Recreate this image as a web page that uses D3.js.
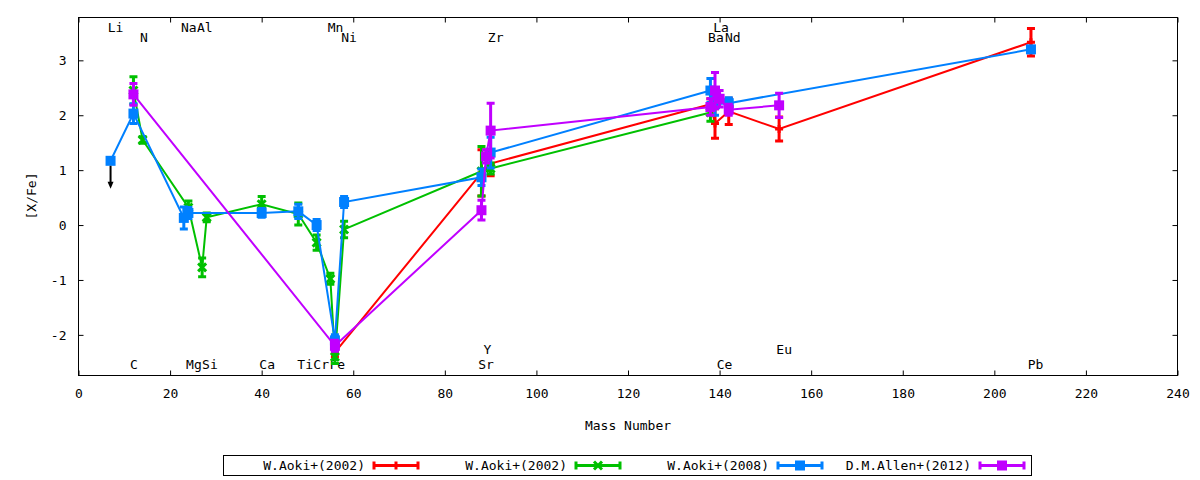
<!DOCTYPE html>
<html>
<head>
<meta charset="utf-8">
<script src="https://cdn.jsdelivr.net/npm/d3@7"></script>
<style>
body { margin: 0; background: #fff; }
text { font-family: "DejaVu Sans Mono", monospace; font-size: 13px; fill: #000; }
</style>
</head>
<body>
<svg id="chart" width="1200" height="480"></svg>
<script>
// series: name, colour, point type
const seriesNames = ['W.Aoki+(2002)', 'W.Aoki+(2002)', 'W.Aoki+(2008)', 'D.M.Allen+(2012)'];
const seriesColors = ['#ff0000', '#00c000', '#0080ff', '#c000ff'];
const seriesMarks = ['plus', 'cross', 'square', 'square'];

// [mass number, [X/Fe], error]
const aoki2002a = [[56, -2.32, 0.08], [88, 0.95, 0.42], [90, 1.12, 0.22], [138, 2.2, 0.1],
  [139, 1.85, 0.27], [142, 2.07, 0.24], [153, 1.75, 0.22], [208, 3.33, 0.25]];
const aoki2002b = [[12, 2.45, 0.25], [14, 1.55, 0.06], [24, 0.32, 0.12], [27, -0.77, 0.17],
  [28, 0.14, 0.08], [40, 0.38, 0.14], [48, 0.2, 0.2], [52, -0.32, 0.14], [55, -0.98, 0.1],
  [56, -2.4, 0.12], [58, -0.08, 0.15], [88, 0.98, 0.45], [90, 1.03, 0.1], [138, 2.05, 0.16]];
const aoki2008 = [[7, 1.17, 0], [12, 2.03, 0.18], [23, 0.13, 0.2], [24, 0.22, 0.1],
  [40, 0.22, 0.08], [48, 0.25, 0.13], [52, 0.0, 0.1], [56, -2.1, 0.1], [58, 0.42, 0.1],
  [88, 0.87, 0.15], [90, 1.32, 0.28], [138, 2.45, 0.22], [139, 2.2, 0.2], [142, 2.22, 0.1],
  [208, 3.2, 0.05]];
const allen2012 = [[12, 2.38, 0.2], [56, -2.2, 0.1], [88, 0.27, 0.18], [89, 1.25, 0.12],
  [90, 1.72, 0.5], [138, 2.15, 0.15], [139, 2.45, 0.33], [140, 2.3, 0.15], [142, 2.1, 0.1],
  [153, 2.18, 0.22]];
const allSeries = [aoki2002a, aoki2002b, aoki2008, allen2012];

// upper limit (Li, W.Aoki+2008): [mass, from, to]
const upperLimits = [[7, 1.17, 0.66]];

// element labels: text, position (mass), height ([X/Fe])
const elemNames = ['Li', 'N', 'Na', 'Al', 'Mn', 'Ni', 'Zr', 'La', 'Ba', 'Nd',
  'C', 'Mg', 'Si', 'Ca', 'Ti', 'Cr', 'Fe', 'Y', 'Sr', 'Ce', 'Eu', 'Pb'];
const elemMass = [8.1, 14.3, 24.1, 27.6, 56.15, 59.1, 91.1, 140.3, 139.2, 142.9,
  12.1, 25.2, 28.7, 41.2, 49.5, 53.0, 56.5, 89.3, 89.0, 141.1, 154.1, 209.0];
const elemLevel = [3.59, 3.41, 3.59, 3.59, 3.59, 3.41, 3.41, 3.59, 3.41, 3.41,
  -2.53, -2.53, -2.53, -2.53, -2.53, -2.53, -2.53, -2.27, -2.53, -2.53, -2.27, -2.53];

const xTicks = d3.range(0, 241, 20);
const yTicks = [-2, -1, 0, 1, 2, 3];

const svg = d3.select('#chart');
const x = d3.scaleLinear().domain([0, 240]).range([78.5, 1177.5]);
const y = d3.scaleLinear().domain([-2.74, 3.78]).range([375.5, 17.5]);
const plain = d => String(d);

// axes, ticks pointing inward, mirrored on top and right
svg.append('g').attr('transform', 'translate(0,375.5)')
  .call(d3.axisBottom(x).tickValues(xTicks).tickFormat(plain).tickSizeInner(-5).tickSizeOuter(0).tickPadding(13));
svg.append('g').attr('transform', 'translate(0,17.5)')
  .call(d3.axisTop(x).tickValues(xTicks).tickSizeInner(-5).tickSizeOuter(0).tickFormat(''));
svg.append('g').attr('transform', 'translate(78.5,0)')
  .call(d3.axisLeft(y).tickValues(yTicks).tickFormat(plain).tickSizeInner(-5).tickSizeOuter(0).tickPadding(12));
svg.append('g').attr('transform', 'translate(1177.5,0)')
  .call(d3.axisRight(y).tickValues(yTicks).tickSizeInner(-5).tickSizeOuter(0).tickFormat(''));
svg.selectAll('.domain').remove();
svg.selectAll('.tick line').attr('stroke', '#000');
svg.selectAll('.tick text').style('font-family', '"DejaVu Sans Mono", monospace').style('font-size', '13px');

svg.append('rect')
  .attr('x', 78.5).attr('y', 17.5).attr('width', 1099).attr('height', 358)
  .attr('fill', 'none').attr('stroke', '#000');

// axis titles
svg.append('text').attr('x', 628).attr('y', 425).attr('dy', '0.35em')
  .attr('text-anchor', 'middle').text('Mass Number');
svg.append('text').attr('transform', 'translate(31,196) rotate(-90)').attr('dy', '0.35em')
  .attr('text-anchor', 'middle').text('[X/Fe]');

// element labels
svg.append('g').selectAll('text').data(elemNames).join('text')
  .attr('x', (d, i) => x(elemMass[i]))
  .attr('y', (d, i) => y(elemLevel[i]))
  .attr('dy', '0.35em')
  .attr('text-anchor', 'middle')
  .text(d => d);

function drawMark(g, type, color) {
  if (type === 'square') {
    g.append('rect').attr('x', -5).attr('y', -5).attr('width', 10).attr('height', 10)
      .attr('fill', color);
  } else if (type === 'plus') {
    g.append('path').attr('d', 'M-4,0H4M0,-4V4').attr('stroke', color)
      .attr('stroke-width', 3).attr('fill', 'none');
  } else {
    g.append('path').attr('d', 'M-4,-4L4,4M-4,4L4,-4').attr('stroke', color)
      .attr('stroke-width', 3).attr('fill', 'none');
  }
}

const line = d3.line().x(d => x(d[0])).y(d => y(d[1]));

allSeries.forEach((data, s) => {
  const color = seriesColors[s];
  const g = svg.append('g');
  g.append('path').datum(data).attr('d', line)
    .attr('fill', 'none').attr('stroke', color).attr('stroke-width', 2);

  const bars = g.selectAll('.bar').data(data.filter(d => d[2] > 0)).join('g');
  bars.append('path')
    .attr('d', d => {
      const cx = x(d[0]), y1 = y(d[1] - d[2]), y2 = y(d[1] + d[2]);
      return `M${cx},${y1}V${y2}M${cx - 4},${y1}H${cx + 4}M${cx - 4},${y2}H${cx + 4}`;
    })
    .attr('stroke', color).attr('stroke-width', 3).attr('fill', 'none');

  g.selectAll('.pt').data(data).join('g')
    .attr('transform', d => `translate(${x(d[0])},${y(d[1])})`)
    .each(function () { drawMark(d3.select(this), seriesMarks[s], color); });

  if (s === 2) {
    upperLimits.forEach(u => {
      const cx = x(u[0]), y1 = y(u[1]) + 5, y2 = y(u[2]);
      svg.append('path').attr('d', `M${cx},${y1}V${y2 - 5}`)
        .attr('stroke', '#000').attr('stroke-width', 2);
      svg.append('path').attr('d', `M${cx - 3},${y2 - 7}L${cx + 3},${y2 - 7}L${cx},${y2}Z`)
        .attr('fill', '#000');
    });
  }
});

// legend
const legend = svg.append('g');
legend.append('rect').attr('x', 223.5).attr('y', 455.5).attr('width', 808).attr('height', 20)
  .attr('fill', '#fff').attr('stroke', '#000');
seriesNames.forEach((name, i) => {
  const right = 365 + i * 202;
  const x1 = right + 9, x2 = right + 53, cy = 465.5, color = seriesColors[i];
  legend.append('text').attr('x', right).attr('y', cy).attr('dy', '0.35em')
    .attr('text-anchor', 'end').text(name);
  legend.append('path')
    .attr('d', `M${x1},${cy}H${x2}M${x1},${cy - 4}V${cy + 4}M${x2},${cy - 4}V${cy + 4}`)
    .attr('stroke', color).attr('stroke-width', 3).attr('fill', 'none');
  const m = legend.append('g').attr('transform', `translate(${(x1 + x2) / 2},${cy})`);
  drawMark(m, seriesMarks[i], color);
});
</script>
</body>
</html>
